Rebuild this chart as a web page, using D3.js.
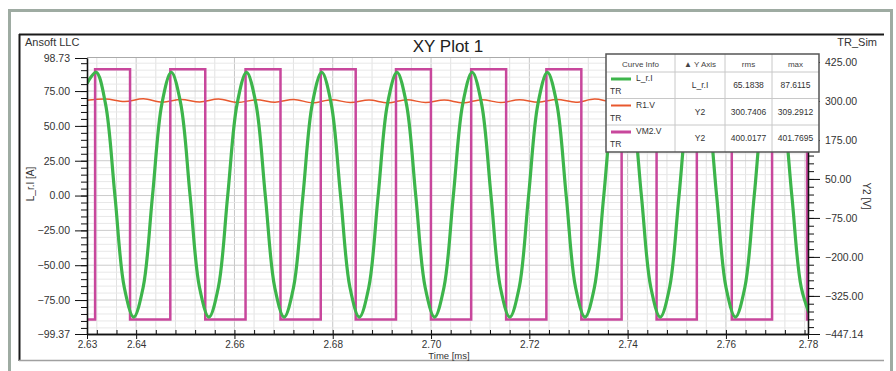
<!DOCTYPE html>
<html><head><meta charset="utf-8">
<script src="https://cdn.jsdelivr.net/npm/d3@7"></script>
<style>body{margin:0;background:#fff}svg{display:block}text{font-family:"Liberation Sans",Arial,sans-serif}</style>
</head><body><svg id="c" width="896" height="371"></svg>
<script>
// ---- data ----
const timeDomain = [2.6300, 2.7767];
const yDomain = [-99.37, 98.73];
const y2Domain = [-447.14, 437.8];
const xTickValues = [2.6300, 2.64, 2.66, 2.68, 2.70, 2.72, 2.74, 2.76, 2.7767];
const yTickValues = [98.73, 75, 50, 25, 0, -25, -50, -75, -99.37];
const y2TickValues = [425, 300, 175, 50, -75, -200, -325, -447.14];

const greenTime = [2.63000,
 2.63185,2.63376,2.63568,2.63759,2.63950,2.64142,2.64333,2.64524,
 2.64715,2.64907,2.65098,2.65289,2.65481,2.65672,2.65863,2.66055,
 2.66246,2.66437,2.66628,2.66820,2.67011,2.67202,2.67394,2.67585,
 2.67776,2.67968,2.68159,2.68350,2.68541,2.68733,2.68924,2.69115,
 2.69307,2.69498,2.69689,2.69881,2.70072,2.70263,2.70454,2.70646,
 2.70837,2.71028,2.71220,2.71411,2.71602,2.71794,2.71985,2.72176,
 2.72367,2.72559,2.72750,2.72941,2.73133,2.73324,2.73515,2.73707,
 2.73898,2.74089,2.74280,2.74472,2.74663,2.74854,2.75046,2.75237,
 2.75428,2.75620,2.75811,2.76002,2.76193,2.76385,2.76576,2.76767,
 2.76959,2.77150,2.77341,2.77533,2.77724];
const greenValues = [80.5,
 88.5,66,0,-66,-87.2,-66,0,66,
 88.5,66,0,-66,-87.2,-66,0,66,
 88.4,66,0,-66,-87.2,-66,0,66,
 88.5,66,0,-66,-87.2,-66,0,66,
 88.4,66,0,-66,-87.2,-66,0,66,
 88.5,66,0,-66,-87.2,-66,0,66,
 88.4,66,0,-66,-87.2,-66,0,66,
 88.5,66,0,-66,-87.2,-66,0,66,
 88.4,66,0,-66,-87.2,-66,0,66,
 88.5,66,0,-66,-87.2];

const redTime = [2.63000,2.63383,2.63765,2.64148,2.64530,2.64913,2.65296,2.65678,2.66061,2.66443,
 2.66826,2.67209,2.67591,2.67974,2.68356,2.68739,2.69122,2.69504,2.69887,2.70269,
 2.70652,2.71035,2.71417,2.71800,2.72182,2.72565,2.72948,2.73330,2.73713,2.74095,
 2.74478,2.74861,2.75243,2.75626,2.76008,2.76391,2.76774,2.77156,2.77539,2.77921];
const redValues = [302,306,298,307,296,305,297,306,295,304,
 296,305,294,304,295,303,294,304,295,303,
 294,304,295,304,296,305,296,306,297,307,
 297,308,298,307,298,309,299,306,299,305];

const vm2Time = [2.63000,
 2.63165,2.63876, 2.64695,2.65406, 2.66226,2.66937, 2.67756,2.68467, 2.69287,2.69998,
 2.70817,2.71528, 2.72347,2.73058, 2.73878,2.74589, 2.75408,2.76119, 2.76939,2.77650, 2.7767];
const vm2Values = [-401,
 401.5,-401, 401.5,-401, 401.5,-401, 401.5,-401, 401.5,-401,
 401.5,-401, 401.5,-401, 401.5,-401, 401.5,-401, 401.5,-401, -401];

const legendNames = ["L_r.I", "R1.V", "VM2.V"];
const legendAxis = ["L_r.I", "Y2", "Y2"];
const legendRms = ["65.1838", "300.7406", "400.0177"];
const legendMax = ["87.6115", "309.2912", "401.7695"];
const legendHeader = ["Curve Info", "\u25B2 Y Axis", "rms", "max"];
const seriesColors = ["#3db54b", "#e8582e", "#c8479c"];

// ---- drawing ----
const svg = d3.select("#c");
const L = 87, R = 808, T = 58, B = 334;
const x = d3.scaleLinear().domain(timeDomain).range([L, R]);
const y = d3.scaleLinear().domain(yDomain).range([B, T]);
const y2 = d3.scaleLinear().domain(y2Domain).range([B, T]);

// outer frame
svg.append("rect").attr("width",896).attr("height",371).attr("fill","#fff");
const fc = "#9eaba2";
svg.append("line").attr("x1",8).attr("x2",893).attr("y1",10.5).attr("y2",10.5).attr("stroke",fc).attr("stroke-width",3);
svg.append("line").attr("x1",9.5).attr("x2",9.5).attr("y1",9).attr("y2",371).attr("stroke",fc).attr("stroke-width",3);
svg.append("line").attr("x1",891.5).attr("x2",891.5).attr("y1",9).attr("y2",371).attr("stroke",fc).attr("stroke-width",3);
// inner panel
svg.append("line").attr("x1",19).attr("x2",884).attr("y1",34.5).attr("y2",34.5).attr("stroke","#1a1a1a").attr("stroke-width",2);
svg.append("line").attr("x1",19.5).attr("x2",19.5).attr("y1",34).attr("y2",361).attr("stroke","#1a1a1a").attr("stroke-width",2);
svg.append("line").attr("x1",19).attr("x2",884).attr("y1",360.5).attr("y2",360.5).attr("stroke","#a0a0a0").attr("stroke-width",1.5);

svg.append("text").attr("x",448).attr("y",52).attr("text-anchor","middle").attr("font-size",17).attr("fill","#222").text("XY Plot 1");
svg.append("text").attr("x",25).attr("y",46).attr("font-size",11).attr("fill","#333").text("Ansoft LLC");
svg.append("text").attr("x",877).attr("y",46).attr("text-anchor","end").attr("font-size",11).attr("fill","#333").text("TR_Sim");

// grid
const g = svg.append("g");
const xMinor = d3.range(2.632, 2.7767, 0.004);
const yMinor = d3.range(-95, 98, 5);
g.selectAll(".vx").data(xMinor).join("line")
  .attr("x1",d=>x(d)).attr("x2",d=>x(d)).attr("y1",T).attr("y2",B)
  .attr("stroke",d=>Math.abs((d*100)%2)<0.01||Math.abs((d*100)%2-2)<0.01?"#c6c6c6":"#e2e2e2").attr("stroke-width",1);
g.selectAll(".hy").data(yMinor).join("line")
  .attr("x1",L).attr("x2",R).attr("y1",d=>y(d)).attr("y2",d=>y(d))
  .attr("stroke",d=>d%25===0?"#cbcbcb":"#e8e8e8").attr("stroke-width",1);
svg.append("line").attr("x1",L).attr("x2",R).attr("y1",T-0.5).attr("y2",T-0.5).attr("stroke","#aaa");

// curves
svg.append("clipPath").attr("id","clip").append("rect").attr("x",L).attr("y",T-3).attr("width",R-L).attr("height",B-T+3);
const cg = svg.append("g").attr("clip-path","url(#clip)");
const redLine = d3.line().x((d,i)=>x(redTime[i])).y(d=>y2(d)).curve(d3.curveCatmullRom);
cg.append("path").attr("d",redLine(redValues)).attr("fill","none").attr("stroke",seriesColors[1]).attr("stroke-width",1.5);
const vmLine = d3.line().x((d,i)=>x(vm2Time[i])).y(d=>y2(d)).curve(d3.curveStepAfter);
cg.append("path").attr("d",vmLine(vm2Values)).attr("fill","none").attr("stroke",seriesColors[2]).attr("stroke-width",2.5);
const gLine = d3.line().x((d,i)=>x(greenTime[i])).y(d=>y(d)).curve(d3.curveCatmullRom);
cg.append("path").attr("d",gLine(greenValues)).attr("fill","none").attr("stroke",seriesColors[0]).attr("stroke-width",3.2);

// axes
const f2 = d3.format(".2f");
function styleAxis(sel, fs){
  sel.selectAll("path.domain").attr("stroke","#111").attr("stroke-width",1.3);
  sel.selectAll(".tick line").attr("stroke","#111");
  sel.selectAll("text").attr("font-size",fs||10).attr("fill","#333").attr("font-family","Liberation Sans, Arial, sans-serif");
}
const ax = svg.append("g").attr("transform",`translate(0,${B})`)
  .call(d3.axisBottom(x).tickValues(xTickValues).tickFormat(f2).tickSize(5).tickSizeOuter(0).tickPadding(2));
styleAxis(ax, 10);
const axm = svg.append("g").attr("transform",`translate(0,${B})`)
  .call(d3.axisTop(x).tickValues(xMinor).tickFormat("").tickSize(4).tickSizeOuter(0));
styleAxis(axm);

const ay = svg.append("g").attr("transform",`translate(${L},0)`)
  .call(d3.axisLeft(y).tickValues(yTickValues).tickFormat(f2).tickSize(12).tickSizeOuter(0).tickPadding(5));
styleAxis(ay, 10.5);
const aym = svg.append("g").attr("transform",`translate(${L},0)`)
  .call(d3.axisLeft(y).tickValues(yMinor).tickFormat("").tickSize(6).tickSizeOuter(0));
styleAxis(aym);

const y2Minor = d3.range(-425, 437, 25);
const ay2 = svg.append("g").attr("transform",`translate(${R},0)`)
  .call(d3.axisRight(y2).tickValues(y2TickValues).tickFormat(f2).tickSize(12).tickSizeOuter(0).tickPadding(5));
styleAxis(ay2, 10.5);
const ay2m = svg.append("g").attr("transform",`translate(${R},0)`)
  .call(d3.axisRight(y2).tickValues(y2Minor).tickFormat("").tickSize(6).tickSizeOuter(0));
styleAxis(ay2m);

svg.append("text").attr("x",449).attr("y",359).attr("text-anchor","middle").attr("font-size",9.5).attr("fill","#333").text("Time [ms]");
svg.append("text").attr("transform","translate(34,184) rotate(-90)").attr("text-anchor","middle").attr("font-size",10).attr("fill","#333").text("L_r.I [A]");
svg.append("text").attr("transform","translate(863,196) rotate(90)").attr("text-anchor","middle").attr("font-size",10).attr("fill","#333").text("Y2 [V]");

// legend table
const lg = svg.append("g").attr("transform","translate(606,54)");
const colX = [0, 69, 119, 166, 213];
const rowY = [0, 18, 44.5, 71, 98];
lg.append("rect").attr("width",213).attr("height",98).attr("fill","#fff");
colX.slice(1,4).forEach(cx=>lg.append("line").attr("x1",cx).attr("x2",cx).attr("y1",0).attr("y2",98).attr("stroke","#c8c8c8"));
rowY.slice(1,4).forEach(ry=>lg.append("line").attr("x1",0).attr("x2",213).attr("y1",ry).attr("y2",ry).attr("stroke","#c8c8c8"));
lg.append("rect").attr("width",213).attr("height",98).attr("fill","none").attr("stroke","#555").attr("stroke-width",1.5);
legendHeader.forEach((h,i)=>lg.append("text").attr("x",(colX[i]+colX[i+1])/2).attr("y",12.5).attr("text-anchor","middle").attr("font-size",8).attr("fill","#444").text(h));
legendNames.forEach((n,i)=>{
  const r0 = rowY[i+1];
  lg.append("line").attr("x1",5).attr("x2",25).attr("y1",r0+7).attr("y2",r0+7).attr("stroke",seriesColors[i]).attr("stroke-width",i===1?2:3);
  lg.append("text").attr("x",30).attr("y",r0+9).attr("font-size",8.5).attr("fill","#333").text(n);
  lg.append("text").attr("x",4).attr("y",r0+22).attr("font-size",8.5).attr("fill","#333").text("TR");
  const cy = r0+16;
  lg.append("text").attr("x",(colX[1]+colX[2])/2).attr("y",cy).attr("text-anchor","middle").attr("font-size",8.5).attr("fill","#333").text(legendAxis[i]);
  lg.append("text").attr("x",(colX[2]+colX[3])/2).attr("y",cy).attr("text-anchor","middle").attr("font-size",8.5).attr("fill","#333").text(legendRms[i]);
  lg.append("text").attr("x",(colX[3]+colX[4])/2).attr("y",cy).attr("text-anchor","middle").attr("font-size",8.5).attr("fill","#333").text(legendMax[i]);
});
</script></body></html>
